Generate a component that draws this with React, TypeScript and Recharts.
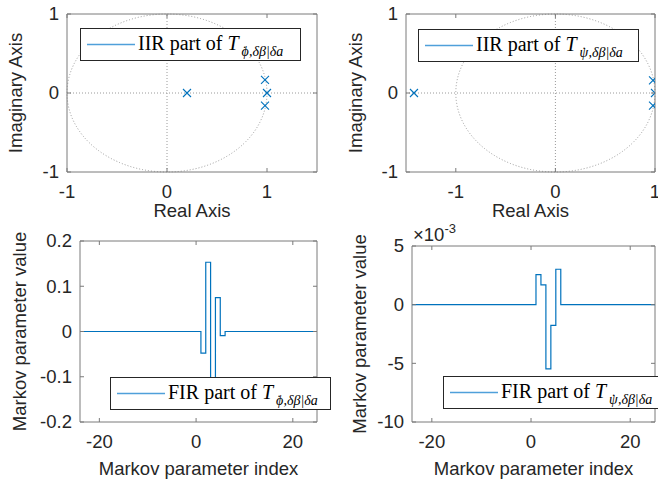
import React from 'react';
import { ScatterChart, Scatter, LineChart, Line, XAxis, YAxis, ReferenceArea, ReferenceLine } from 'recharts';

const FONT = '"Liberation Sans", Arial, Helvetica, sans-serif';
const SERIF = '"Liberation Serif", "Times New Roman", serif';
const INK = '#262626';
const BOX = '#7a7a7a';
const BLUE = '#0072BD';

// poles
const phiPoleRe = [0.2, 0.98, 1.0, 0.98];
const phiPoleIm = [0, 0.165, 0, -0.16];
const psiPoleRe = [-1.42, 0.98, 1.0, 0.98];
const psiPoleIm = [0, 0.16, 0, -0.16];

// stairs breakpoints of the FIR parts
const markovIdx = [-24, 1, 2, 3, 4, 5, 6, 25];
const phiFir = [0, -0.048, 0.153, -0.17, 0.075, -0.009, 0, 0];
const psiFir = [0, 0.00256, 0.00168, -0.00547, -0.00177, 0.00302, 0, 0];

const pzTicks = [-1, 0, 1];
const idxTicks = [-20, 0, 20];
const phiTicks = [-0.2, -0.1, 0, 0.1, 0.2];
const psiTicks = [-0.01, -0.005, 0, 0.005];

const phiPoles = phiPoleRe.map((re, k) => ({ re, im: phiPoleIm[k] }));
const psiPoles = psiPoleRe.map((re, k) => ({ re, im: psiPoleIm[k] }));
const phiRows = markovIdx.map((i, k) => ({ i, v: phiFir[k] }));
const psiRows = markovIdx.map((i, k) => ({ i, v: psiFir[k] }));

const fmtPsi = (v: number) => String(Math.round(v * 1000));

function XTick(props: any) {
  const { x, y, payload, h } = props;
  return (
    <g>
      <line x1={x} x2={x} y1={y} y2={y - 4} stroke={BOX} />
      <line x1={x} x2={x} y1={y - h} y2={y - h + 4} stroke={BOX} />
      <text x={x} y={y + 25.5} textAnchor="middle" fontSize={18.5} fontFamily={FONT} fill={INK}>
        {String(payload.value)}
      </text>
    </g>
  );
}

function YTick(props: any) {
  const { x, y, payload, w, fmt } = props;
  return (
    <g>
      <line x1={x} x2={x + 4} y1={y} y2={y} stroke={BOX} />
      <line x1={x + w} x2={x + w - 4} y1={y} y2={y} stroke={BOX} />
      <text x={x - 8} y={y} dy="0.35em" textAnchor="end" fontSize={18.5} fontFamily={FONT} fill={INK}>
        {fmt ? fmt(payload.value) : String(payload.value)}
      </text>
    </g>
  );
}

const Cross = (p: any) => (
  <path
    d={`M${p.cx - 4},${p.cy - 4}L${p.cx + 4},${p.cy + 4}M${p.cx - 4},${p.cy + 4}L${p.cx + 4},${p.cy - 4}`}
    stroke={BLUE}
    strokeWidth={1.1}
    fill="none"
  />
);

const UnitCircle = (p: any) => (
  <ellipse
    cx={p.x + p.width / 2}
    cy={p.y + p.height / 2}
    rx={p.width / 2}
    ry={p.height / 2}
    fill="none"
    stroke="#9a9a9a"
    strokeDasharray="1 2"
  />
);

function axisLabel(value: string, offset: number, vertical: boolean) {
  return {
    value,
    offset,
    position: vertical ? 'insideLeft' : 'bottom',
    angle: vertical ? -90 : 0,
    fontSize: 18.5,
    fontFamily: FONT,
    fill: INK,
    style: { textAnchor: 'middle' },
  } as any;
}

function PzPlot(props: any) {
  const { data, xDomain, yAxisW, right, labelOff } = props;
  const plotW = 330 - yAxisW - right;
  return (
    <ScatterChart width={yAxisW + plotW + right} height={240} margin={{ top: 14, right, bottom: 38, left: 0 }}>
      <XAxis
        type="number"
        dataKey="re"
        domain={xDomain}
        ticks={pzTicks}
        interval={0}
        height={30}
        tickSize={0}
        tickMargin={0}
        axisLine={false}
        tickLine={false}
        allowDataOverflow
        tick={(p: any) => <XTick {...p} h={158} />}
        label={axisLabel('Real Axis', 2, false)}
      />
      <YAxis
        type="number"
        dataKey="im"
        domain={[-1, 1]}
        ticks={pzTicks}
        interval={0}
        width={yAxisW}
        tickSize={0}
        tickMargin={0}
        axisLine={false}
        tickLine={false}
        tick={(p: any) => <YTick {...p} w={plotW} />}
        label={axisLabel('Imaginary Axis', labelOff, true)}
      />
      <ReferenceLine x={0} stroke="#9a9a9a" strokeDasharray="1 2" />
      <ReferenceLine y={0} stroke="#9a9a9a" strokeDasharray="1 2" />
      <ReferenceArea x1={-1} x2={1} y1={-1} y2={1} shape={UnitCircle} />
      <ReferenceArea x1={xDomain[0]} x2={xDomain[1]} y1={-1} y2={1} fill="none" stroke={BOX} />
      <Scatter data={data} shape={Cross} isAnimationActive={false} />
    </ScatterChart>
  );
}

// svg starts 40px above the panel so the long y label is not clipped
function FirPlot(props: any) {
  const { data, yDomain, yTicks, fmt, top, yAxisW, right, labelOff } = props;
  const plotW = 330 - yAxisW - right;
  const plotH = 182 - top;
  return (
    <LineChart width={yAxisW + plotW + right} height={281} data={data} margin={{ top: top + 40, right, bottom: 29, left: 0 }}>
      <XAxis
        type="number"
        dataKey="i"
        domain={[-24, 25]}
        ticks={idxTicks}
        interval={0}
        height={30}
        tickSize={0}
        tickMargin={0}
        axisLine={false}
        tickLine={false}
        allowDataOverflow
        tick={(p: any) => <XTick {...p} h={plotH} />}
        label={axisLabel('Markov parameter index', 10, false)}
      />
      <YAxis
        type="number"
        domain={yDomain}
        ticks={yTicks}
        interval={0}
        width={yAxisW}
        tickSize={0}
        tickMargin={0}
        axisLine={false}
        tickLine={false}
        allowDataOverflow
        tick={(p: any) => <YTick {...p} w={plotW} fmt={fmt} />}
        label={axisLabel('Markov parameter value', labelOff, true)}
      />
      <ReferenceArea x1={-24} x2={25} y1={yDomain[0]} y2={yDomain[1]} fill="none" stroke={BOX} />
      <Line type="stepAfter" dataKey="v" stroke={BLUE} strokeWidth={1.2} dot={false} isAnimationActive={false} />
    </LineChart>
  );
}

function LegendBox(props: any) {
  const { left, top, kind, sym } = props;
  return (
    <svg style={{ position: 'absolute', left, top }} width={221} height={33}>
      <rect x={0.5} y={0.5} width={220} height={32} fill="#fff" stroke={INK} />
      <line x1={7} x2={55} y1={16.5} y2={16.5} stroke="#4fa0da" strokeWidth={1.5} />
      <text x={58} y={22} fontFamily={SERIF} fontSize={20} fill="#000">
        {kind} part of <tspan fontStyle="italic">T</tspan>
        <tspan fontSize={14} fontStyle="italic" dx={3} dy={6}>{sym}</tspan>
        <tspan fontSize={14} dx={-6.5}>{'\u02D9'}</tspan>
        <tspan fontSize={14} fontStyle="italic" dx={2}>,δβ|δa</tspan>
      </text>
    </svg>
  );
}

export default function App() {
  return (
    <div style={{ position: 'absolute', left: 0, top: 0, width: 658, height: 481, background: '#fff', overflow: 'hidden' }}>
      <div style={{ position: 'absolute', left: 0, top: 0 }}>
        <PzPlot data={phiPoles} xDomain={[-1, 1.5]} yAxisW={67} right={13} labelOff={15} />
      </div>
      <div style={{ position: 'absolute', left: 330, top: 0 }}>
        <PzPlot data={psiPoles} xDomain={[-1.5, 1]} yAxisW={76} right={5} labelOff={25} />
      </div>
      <div style={{ position: 'absolute', left: 0, top: 200 }}>
        <FirPlot data={phiRows} yDomain={[-0.2, 0.2]} yTicks={phiTicks} top={1} yAxisW={80} right={13} labelOff={19} />
      </div>
      <div style={{ position: 'absolute', left: 330, top: 200 }}>
        <FirPlot data={psiRows} yDomain={[-0.01, 0.005]} yTicks={psiTicks} fmt={fmtPsi} top={6} yAxisW={82} right={5} labelOff={29} />
      </div>
      <svg style={{ position: 'absolute', left: 0, top: 0 }} width={658} height={481}>
        <text x={413} y={241} fontSize={18.5} fontFamily={FONT} fill={INK}>
          ×10<tspan fontSize={13} dy={-8}>-3</tspan>
        </text>
      </svg>
      <LegendBox left={80} top={28} kind="IIR" sym={'\u03D5'} />
      <LegendBox left={418} top={29} kind="IIR" sym={'\u03C8'} />
      <LegendBox left={110} top={377} kind="FIR" sym={'\u03D5'} />
      <LegendBox left={443} top={376} kind="FIR" sym={'\u03C8'} />
    </div>
  );
}
